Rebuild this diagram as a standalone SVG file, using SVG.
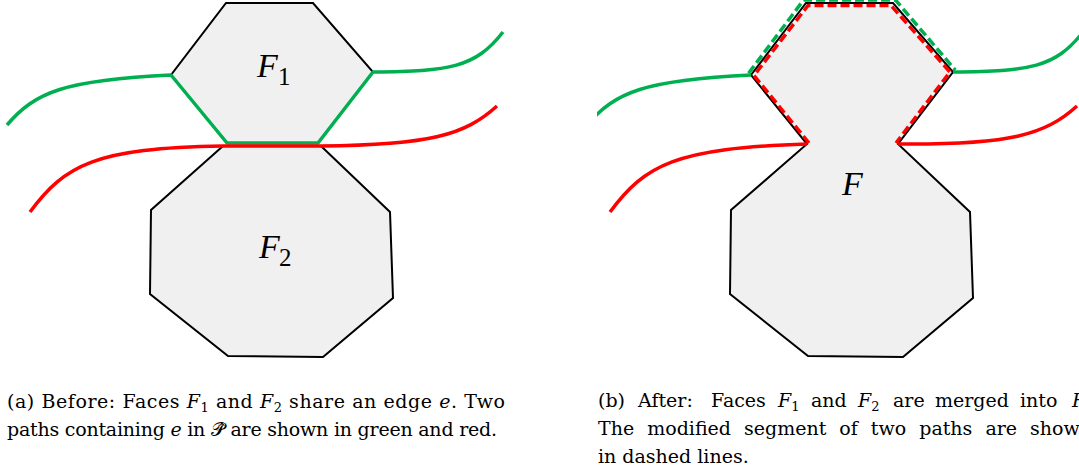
<svg xmlns="http://www.w3.org/2000/svg" width="1079" height="474" viewBox="0 0 1079 474">
<defs>
<style>
.face{fill:#f0f0f0;stroke:#000;stroke-width:2;stroke-linejoin:miter}
.g{fill:none;stroke:#00b050;stroke-width:3.5;stroke-linejoin:round}
.r{fill:none;stroke:#ff0000;stroke-width:3.5;stroke-linejoin:round}
.dash{stroke-dasharray:9 4}
.lbl{font-family:"Liberation Serif",serif;font-style:italic;font-size:34px;fill:#000}
.sub{font-style:normal;font-size:25px}
.cap{font-family:"DejaVu Serif","Liberation Serif",serif;font-size:19px;fill:#000}
.it{font-style:italic}
.cs{font-size:13px}
</style>
<clipPath id="clipB" clipPathUnits="userSpaceOnUse"><rect x="597" y="0" width="482" height="380"/></clipPath>
</defs>
<rect width="1079" height="474" fill="#fff"/>

<!-- (a) Before -->
<g id="face-F1">
<polygon class="face" points="226,3 313,3 373,72 318,143 227,143 171,75"/>
<text class="lbl" x="257" y="77">F<tspan class="sub" x="278" y="85">1</tspan></text>
</g>
<g id="face-F2">
<polygon class="face" points="223,146 321,146 390,212 393,298 323,357 228,356 150,294 151,210"/>
<text class="lbl" x="259" y="258">F<tspan class="sub" x="279" y="266">2</tspan></text>
</g>
<g id="connectors-a">
<path class="g" d="M7,125 C35,92 65,80 171,75 L227,143 L318,143 L373,72 C450,71 475,68 503,32"/>
<path class="r" d="M30,212 C65,165 95,148 223,146 L321,146 C430,145 465,135 497,106"/>
</g>

<!-- (b) After -->
<g clip-path="url(#clipB)">
<g transform="translate(580,0)">
<g id="face-F">
<polygon class="face" points="226,3 313,3 373,72 318,144 390,212 393,298 323,357 228,356 150,294 151,210 227,144 171,75"/>
<text class="lbl" x="262" y="195">F</text>
</g>
<g id="connectors-b">
<path class="g" d="M7,125 C35,92 65,80 171,75"/>
<path class="g" d="M373,72 C450,71 475,68 503,32"/>
<path class="g dash" d="M168.6,73.2 L223.6,0 L315.5,0 L375.3,70"/>
<path class="r dash" d="M229,143 L174,75.5 L228,5.5 L311,5.5 L370,72 L316,143"/>
<path class="r" d="M30,212 C65,165 95,148 227,144"/>
<path class="r" d="M318,144 C430,145 465,135 497,106"/>
</g>
</g>
</g>

<!-- captions -->
<g id="caption-a" class="cap">
<text x="7" y="408" textLength="498" lengthAdjust="spacing">(a) Before: Faces <tspan class="it">F</tspan><tspan class="cs" dy="4">1</tspan><tspan dy="-4"> and </tspan><tspan class="it">F</tspan><tspan class="cs" dy="4">2</tspan><tspan dy="-4"> share an edge </tspan><tspan class="it">e</tspan>. Two</text>
<text x="7" y="436" textLength="490" lengthAdjust="spacing">paths containing <tspan class="it">e</tspan> in 𝒫̂ are shown in green and red.</text>
</g>
<g id="caption-b" class="cap">
<text y="407"><tspan x="598">(b)</tspan><tspan x="638">After:</tspan><tspan x="711">Faces</tspan><tspan x="778" class="it">F</tspan><tspan class="cs" dy="4">1</tspan><tspan x="811" dy="-4">and</tspan><tspan x="858" class="it">F</tspan><tspan class="cs" dy="4">2</tspan><tspan x="893" dy="-4">are</tspan><tspan x="935">merged</tspan><tspan x="1020">into</tspan><tspan x="1072" class="it">F</tspan></text>
<text x="598" y="435" style="word-spacing:7px">The modified segment of two paths are shown</text>
<text x="598" y="463">in dashed lines.</text>
</g>
</svg>
